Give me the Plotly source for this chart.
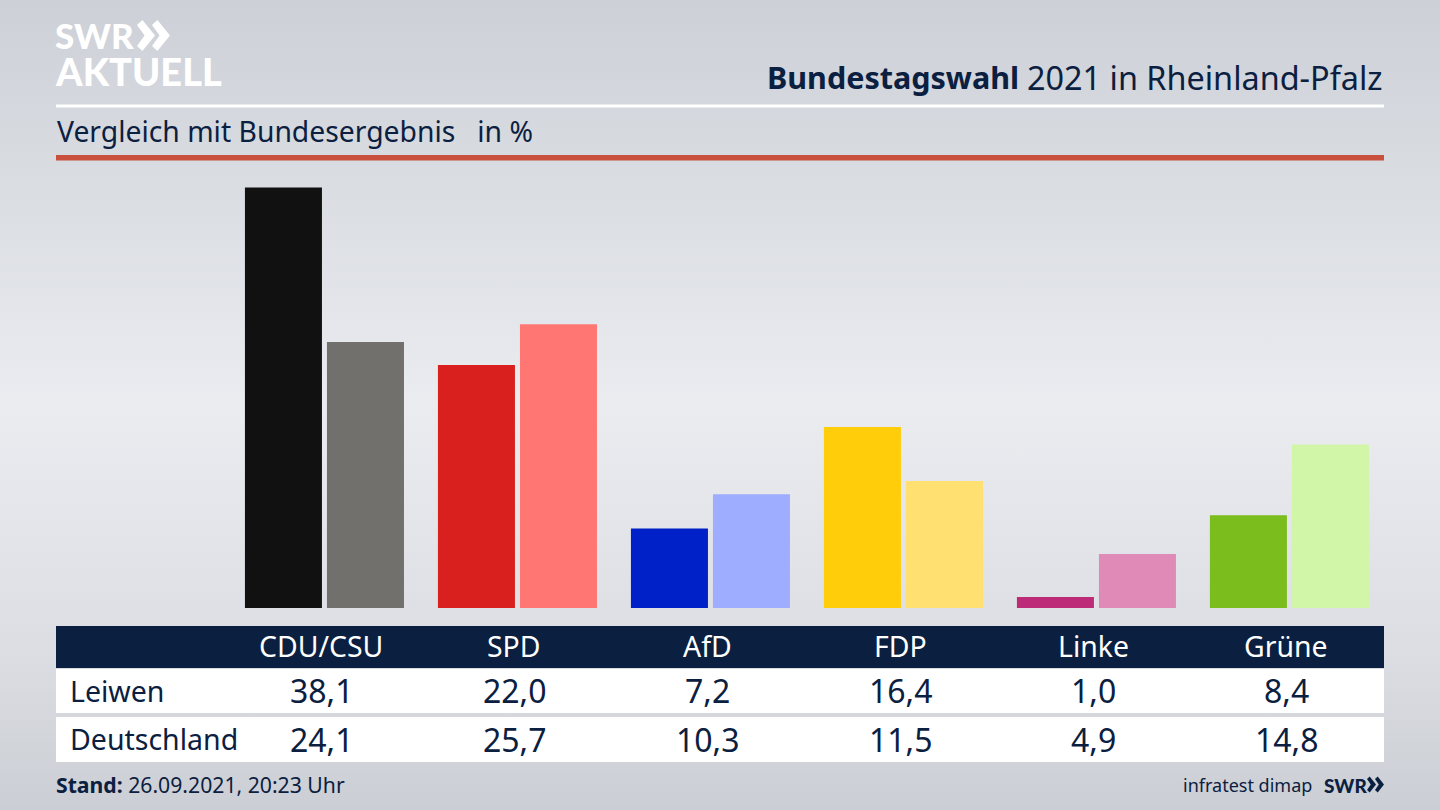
import base64
import plotly.graph_objects as go

W, H = 1440, 810

# ---- data
parties = ["CDU/CSU", "SPD", "AfD", "FDP", "Linke", "Grüne"]
leiwen = [38.1, 22.0, 7.2, 16.4, 1.0, 8.4]
deutschland = [24.1, 25.7, 10.3, 11.5, 4.9, 14.8]
leiwen_labels = ["38,1", "22,0", "7,2", "16,4", "1,0", "8,4"]
deutschland_labels = ["24,1", "25,7", "10,3", "11,5", "4,9", "14,8"]
colors_leiwen = ["#111111", "#d9201e", "#0020c8", "#ffcd0a", "#bd2a78", "#7abd1c"]
colors_deutschland = ["#72706d", "#ff7672", "#9eadff", "#ffe070", "#e08ab8", "#d2f6a8"]

NAVY = "#0b2040"
FONT = "Noto Sans"


def px(x):
    return x / W


def py(y):
    return 1 - y / H


def text(x, y, s, size, color=NAVY, anchor="left", family=FONT, weight=None):
    font = dict(family=family, size=size, color=color)
    if weight:
        font["weight"] = weight
    return dict(x=px(x), y=py(y), xref="paper", yref="paper", text=s, showarrow=False,
                xanchor=anchor, yanchor="middle", align=anchor, font=font,
                borderpad=0, borderwidth=0)


def cat_text(cat, y, s, size, color, shift):
    return dict(x=cat, y=py(y), xref="x", yref="paper", text=s, showarrow=False,
                xanchor="center", yanchor="middle", xshift=shift,
                font=dict(family=FONT, size=size, color=color))


def rect(x0, y0, x1, y1, color, layer="below"):
    return dict(type="rect", xref="paper", yref="paper", x0=px(x0), x1=px(x1),
                y0=py(y0), y1=py(y1), fillcolor=color, line=dict(width=0), layer=layer)


def path(points, color):
    d = "M" + " L".join(f"{px(a):.5f},{py(b):.5f}" for a, b in points) + " Z"
    return dict(type="path", xref="paper", yref="paper", path=d, fillcolor=color,
                line=dict(width=0), layer="above")


def chevrons(x, y, h, w, gap, color):
    out = []
    for i in range(2):
        x0 = x + i * gap
        out.append(path([(x0, y + h * 0.16), (x0 + w * 0.3, y), (x0 + w, y + h / 2),
                         (x0 + w * 0.3, y + h), (x0, y + h * 0.84),
                         (x0 + w * 0.42, y + h / 2)], color))
    return out


svg = f"""<svg xmlns="http://www.w3.org/2000/svg" width="{W}" height="{H}">
<defs><linearGradient id="g" x1="0" y1="0" x2="0" y2="1">
<stop offset="0" stop-color="#cdd0d7"/><stop offset="0.2" stop-color="#d8dbe0"/>
<stop offset="0.5" stop-color="#eaecf0"/><stop offset="0.8" stop-color="#dcdee3"/>
<stop offset="1" stop-color="#cbced4"/></linearGradient></defs>
<rect width="{W}" height="{H}" fill="url(#g)"/></svg>"""
bg = "data:image/svg+xml;base64," + base64.b64encode(svg.encode()).decode()

fig = go.Figure()
fig.add_bar(x=parties, y=leiwen, name="Leiwen", marker=dict(color=colors_leiwen, line_width=0))
fig.add_bar(x=parties, y=deutschland, name="Deutschland", marker=dict(color=colors_deutschland, line_width=0))

shapes = [
    rect(56, 104.5, 1384, 107.5, "#ffffff"),
    rect(56, 155, 1384, 160.5, "#c8503c"),
    rect(56, 626, 1384, 668, NAVY),
    rect(56, 669, 1384, 713, "#ffffff"),
    rect(56, 717, 1384, 762, "#ffffff"),
]
shapes += chevrons(137, 20, 31, 18, 15, "#ffffff")
shapes += chevrons(1367, 776.5, 16, 9, 8, NAVY)

annotations = [
    text(55, 35, "SWR", 35, "#ffffff", family="Lato", weight=900),
    text(55, 71.5, "AKTUELL", 38, "#ffffff", family="Lato", weight=900),
    text(1019, 77, "<b>Bundestagswahl</b>", 30.5, anchor="right"),
    text(1383, 77, "2021 in Rheinland-Pfalz", 32.4, anchor="right"),
    text(57, 131.5, "Vergleich mit Bundesergebnis&nbsp;&nbsp;&nbsp;in %", 28.3),
    text(70, 690.5, "Leiwen", 28.5),
    text(70, 739, "Deutschland", 28.5),
    text(56, 784.5, "<b>Stand:</b> 26.09.2021, 20:23 Uhr", 21.2),
    text(1312, 784.5, "infratest dimap", 18, anchor="right"),
    text(1324, 785, "SWR", 19, family="Lato", weight=900),
]
for p, a, b in zip(parties, leiwen_labels, deutschland_labels):
    annotations.append(cat_text(p, 646, p, 28.4, "#ffffff", -3))
    annotations.append(cat_text(p, 690, a, 32, NAVY, -2.5))
    annotations.append(cat_text(p, 739, b, 32, NAVY, -2.5))

fig.update_layout(
    width=W, height=H, margin=dict(l=0, r=0, t=0, b=0),
    paper_bgcolor="#e4e6ea", plot_bgcolor="rgba(0,0,0,0)",
    barmode="group", bargap=0.15, bargroupgap=0.061, showlegend=False,
    xaxis=dict(domain=[px(56), px(1384)], range=[-1.391, 5.49], visible=False,
               type="category", categoryorder="array", categoryarray=parties),
    yaxis=dict(domain=[py(608), py(160)], range=[0, 40.58], visible=False),
    shapes=shapes, annotations=annotations,
    images=[dict(source=bg, xref="paper", yref="paper", x=0, y=1, sizex=1, sizey=1,
                 xanchor="left", yanchor="top", sizing="stretch", layer="below")],
)

fig.write_html("out.html", config=dict(displayModeBar=False),
               post_script="document.body.style.margin='0';document.body.style.overflow='hidden';")
